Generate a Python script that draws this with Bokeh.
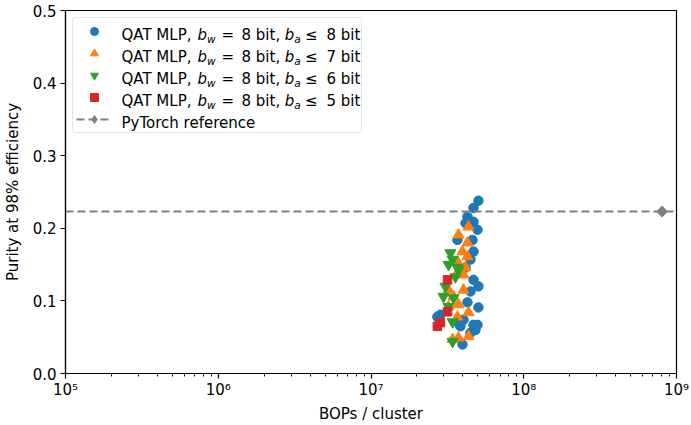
import numpy as np
from bokeh.plotting import figure
from bokeh.models import (Range1d, FixedTicker, Span, Legend, LegendItem, Label)
from bokeh.embed import file_html
from bokeh.resources import INLINE

FONT = "DejaVu Sans"

# ---------------- data ----------------
x_ticks = [1e5, 1e6, 1e7, 1e8, 1e9]
x_tick_labels = ["10⁵", "10⁶", "10⁷", "10⁸", "10⁹"]
y_ticks = [0.0, 0.1, 0.2, 0.3, 0.4, 0.5]
y_tick_labels = ["0.0", "0.1", "0.2", "0.3", "0.4", "0.5"]
x_label = "BOPs / cluster"
y_label = "Purity at 98% efficiency"

# b_a <= 8 bit
ba8_bops = [5.05e7, 4.69e7, 4.28e7, 4.16e7, 4.69e7, 4.98e7, 4.62e7, 3.68e7,
            4.69e7, 4.48e7, 4.16e7, 4.69e7, 5.05e7, 4.48e7, 5.05e7, 4.28e7,
            2.85e7, 2.72e7, 4.03e7, 3.85e7, 4.69e7, 4.83e7, 4.48e7, 3.97e7,
            3.74e7, 4.98e7]
ba8_purity = [0.238, 0.228, 0.216, 0.207, 0.209, 0.198, 0.184, 0.184,
              0.168, 0.157, 0.146, 0.129, 0.120, 0.113, 0.091, 0.098,
              0.081, 0.078, 0.074, 0.065, 0.067, 0.060, 0.056, 0.040,
              0.070, 0.067]

# b_a <= 7 bit
ba7_bops = [4.35e7, 3.74e7, 4.28e7, 3.97e7, 4.28e7, 3.68e7, 4.16e7, 3.68e7,
            4.03e7, 3.22e7, 4.03e7, 3.47e7, 3.74e7, 3.22e7, 4.35e7, 3.68e7,
            3.74e7, 4.35e7, 3.42e7]
ba7_purity = [0.202, 0.191, 0.180, 0.168, 0.161, 0.154, 0.146, 0.139,
              0.136, 0.115, 0.115, 0.106, 0.095, 0.092, 0.084, 0.078,
              0.049, 0.051, 0.047]

# b_a <= 6 bit
ba6_bops = [3.31e7, 3.42e7, 3.22e7, 3.68e7, 3.74e7, 3.57e7, 3.07e7, 2.98e7,
            3.47e7, 3.22e7, 3.42e7, 3.42e7]
ba6_purity = [0.166, 0.157, 0.150, 0.146, 0.143, 0.133, 0.120, 0.106,
              0.104, 0.092, 0.071, 0.044]

# b_a <= 5 bit
ba5_bops = [3.17e7, 3.17e7, 2.85e7, 2.72e7]
ba5_purity = [0.129, 0.085, 0.070, 0.065]

# PyTorch reference
ref_bops = [8.05e8]
ref_purity = [0.223]

series_bits = [8, 7, 6, 5]

# ---------------- figure ----------------
p = figure(width=691, height=425, x_axis_type="log",
           x_range=Range1d(x_ticks[0], x_ticks[-1]),
           y_range=Range1d(y_ticks[0], y_ticks[-1]),
           output_backend="svg", toolbar_location=None,
           min_border_left=65, min_border_right=15,
           min_border_top=10, min_border_bottom=51,
           background_fill_color="white", border_fill_color="white")

p.xgrid.visible = False
p.ygrid.visible = False
p.outline_line_color = "black"
p.outline_line_width = 1.2
p.outline_line_alpha = 1.0

minor = [k * 10 ** n for n in range(5, 9) for k in range(2, 10)]
p.xaxis.ticker = FixedTicker(ticks=x_ticks, minor_ticks=minor)
p.xaxis.major_label_overrides = {t: l for t, l in zip(x_ticks, x_tick_labels)}
p.yaxis.ticker = FixedTicker(ticks=y_ticks, minor_ticks=[])
p.yaxis.major_label_overrides = {t: l for t, l in zip(y_ticks, y_tick_labels)}

p.xaxis.axis_label = x_label
p.yaxis.axis_label = y_label
for ax in (p.xaxis, p.yaxis):
    ax.axis_label_text_font = FONT
    ax.axis_label_text_font_size = "15px"
    ax.axis_label_text_font_style = "normal"
    ax.axis_label_text_color = "black"
    ax.major_label_text_font = FONT
    ax.major_label_text_font_size = "15px"
    ax.major_label_text_color = "black"
    ax.axis_line_color = "black"
    ax.axis_line_width = 1.2
    ax.major_tick_line_color = "black"
    ax.major_tick_line_width = 1.2
    ax.major_tick_in = 0
    ax.major_tick_out = 5
    ax.minor_tick_line_color = "black"
    ax.minor_tick_line_width = 0.9
    ax.minor_tick_in = 0
    ax.minor_tick_out = 3
p.xaxis.major_label_standoff = 2
p.xaxis.axis_label_standoff = 3
p.yaxis.major_label_standoff = 4
p.yaxis.axis_label_standoff = 8

# reference line
p.add_layout(Span(location=ref_purity[0], dimension="width",
                  line_color="#7f7f7f", line_width=2, line_dash="8 4"))

r8 = p.scatter(ba8_bops, ba8_purity, marker="circle", size=9.5, color="#1f77b4")
r7 = p.scatter(ba7_bops, ba7_purity, marker="triangle", size=11, color="#ff7f0e")
r6 = p.scatter(ba6_bops, ba6_purity, marker="inverted_triangle", size=11, color="#2ca02c")
r5 = p.scatter(ba5_bops, ba5_purity, marker="square", size=8.5, color="#d62728")
# reference point: rotated square + diamond give an even diamond shape
p.scatter(ref_bops, ref_purity, marker="square", angle=np.pi / 4, size=7.5,
          color="#7f7f7f")
rdl = p.scatter(ref_bops, ref_purity, marker="diamond", size=11, color="#7f7f7f")
# single-point line: invisible in the plot, gives the dashed legend glyph
rl = p.line(ref_bops, ref_purity, line_color="#7f7f7f", line_width=2, line_dash="8 4")

items = [LegendItem(label=" ", renderers=[r]) for r in (r8, r7, r6, r5)]
items.append(LegendItem(label=" ", renderers=[rl, rdl]))
legend = Legend(items=items, location="top_left", margin=7, padding=3,
                spacing=2, glyph_width=36, glyph_height=20, label_height=20,
                label_width=236, label_standoff=10, label_text_font_size="1px",
                border_line_color="#cccccc", border_line_width=1,
                background_fill_color="white", background_fill_alpha=0.0)
if "border_radius" in Legend.properties():
    legend.border_radius = 3
p.add_layout(legend)

# legend texts (real text, with subscripts)
FRAME_LEFT = 65
FRAME_BOTTOM = 374
X0 = 121
ROW0 = 30
ROWSTEP = 22


def add_text(x_abs, y_abs, text, size=15, italic=False):
    p.add_layout(Label(x=x_abs - FRAME_LEFT, y=FRAME_BOTTOM - y_abs,
                       x_units="screen", y_units="screen", text=text,
                       text_font=FONT, text_font_size=f"{size}px",
                       text_font_style="italic" if italic else "normal",
                       text_color="black", text_baseline="alphabetic",
                       text_align="left", level="overlay"))


for i, bits in enumerate(series_bits):
    base = ROW0 + ROWSTEP * i + 5.5
    add_text(X0, base, "QAT MLP,")
    add_text(X0 + 75.9, base, "b", italic=True)
    add_text(X0 + 85.4, base + 3.5, "w", size=10.5, italic=True)
    add_text(X0 + 100, base, "=")
    add_text(X0 + 120, base, "8 bit,")
    add_text(X0 + 163.2, base, "b", italic=True)
    add_text(X0 + 172.7, base + 3.5, "a", size=10.5, italic=True)
    add_text(X0 + 183.5, base, "≤")
    add_text(X0 + 205, base, f"{bits} bit")
add_text(X0, ROW0 + ROWSTEP * 4 + 5.5, "PyTorch reference")

open("out.html", "w").write(file_html(p, INLINE))
